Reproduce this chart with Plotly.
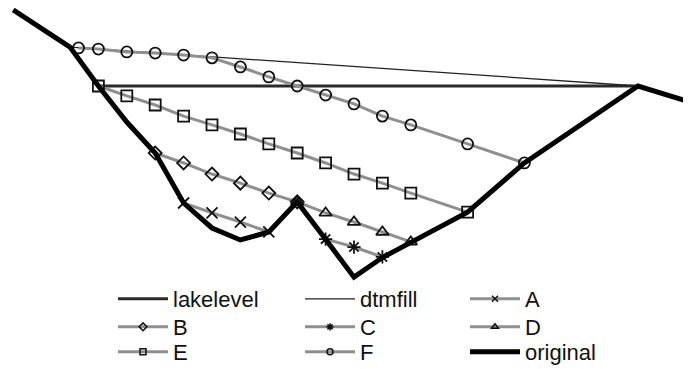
import plotly.graph_objects as go

# distance (m) and elevation (m)
orig_x = [-20, 0, 10, 20, 30, 40, 50, 60, 70, 80, 90, 100, 110, 120, 140, 160, 200, 220]
orig_y = [126.8, 113.7, 100.0, 87.3, 76.4, 58.8, 50.0, 45.8, 48.6, 59.2, 46.0, 32.7, 39.6, 45.1, 55.6, 72.9, 100.0, 93.8]

lake_x = [10, 200]
lake_y = [100, 100]

dtm_x = [0, 200]
dtm_y = [113.7, 100.0]

A_x = [40, 50, 60, 70]
A_y = [58.8, 55.3, 52.1, 48.6]

B_x = [30, 40, 50, 60, 70, 80]
B_y = [76.4, 72.9, 69.0, 65.8, 62.3, 59.2]

C_x = [90, 100, 110]
C_y = [46.1, 43.3, 39.8]

D_x = [80, 90, 100, 110, 120]
D_y = [59.2, 55.3, 52.1, 48.6, 45.1]

E_x = [10, 20, 30, 40, 50, 60, 70, 80, 90, 100, 110, 120, 140]
E_y = [100.0, 96.5, 93.3, 89.4, 86.3, 83.1, 79.6, 76.4, 72.9, 69.0, 65.8, 62.3, 55.6]

F_x = [3, 10, 20, 30, 40, 50, 60, 70, 80, 90, 100, 110, 120, 140, 160]
F_y = [113.4, 113.0, 112.0, 111.6, 110.9, 109.9, 106.7, 103.2, 100.0, 96.8, 93.7, 89.4, 86.3, 79.6, 72.9]

legend_order = ["lakelevel", "dtmfill", "A", "B", "C", "D", "E", "F", "original"]

GRAY = "#8f8f8f"
FONT = "Liberation Sans, Arial, sans-serif"

fig = go.Figure()

series = [
    ("A", A_x, A_y, "x-thin-open", 11),
    ("B", B_x, B_y, "diamond-open", 10),
    ("C", C_x, C_y, "asterisk-open", 11),
    ("D", D_x, D_y, "triangle-up-open", 11),
    ("E", E_x, E_y, "square-open", 11),
    ("F", F_x, F_y, "circle-open", 11),
]

fig.add_trace(go.Scatter(x=lake_x, y=lake_y, mode="lines", line=dict(color="#2a2a2a", width=3),
                         showlegend=False, legendgroup="lakelevel"))
fig.add_trace(go.Scatter(x=dtm_x, y=dtm_y, mode="lines", line=dict(color="#222", width=1.3),
                         showlegend=False, legendgroup="dtmfill"))
for name, xs, ys, sym, sz in series:
    fig.add_trace(go.Scatter(x=xs, y=ys, mode="lines+markers", line=dict(color=GRAY, width=3),
                             marker=dict(symbol=sym, size=sz, color="#111", line=dict(width=1.8)),
                             showlegend=False, legendgroup=name))
fig.add_trace(go.Scatter(x=orig_x, y=orig_y, mode="lines", line=dict(color="black", width=5),
                         showlegend=False, legendgroup="original"))

# legend entries: a 3 x 3 grid, one small legend per entry
sym_of = {n: s for n, _, _, s, _ in series}
col_x = [105, 292, 457]      # px from left of figure
row_y = [291, 319, 344]      # px from top of figure (item centres)
leg_layout = {}
for i, n in enumerate(legend_order):
    r, c = divmod(i, 3)
    lg = "legend" if i == 0 else f"legend{i + 1}"
    if n == "lakelevel":
        kw = dict(mode="lines", line=dict(color="#2a2a2a", width=3))
    elif n == "dtmfill":
        kw = dict(mode="lines", line=dict(color="#222", width=1.3))
    elif n == "original":
        kw = dict(mode="lines", line=dict(color="black", width=5))
    else:
        kw = dict(mode="lines+markers", line=dict(color=GRAY, width=3),
                  marker=dict(symbol=sym_of[n], size=6, color="#111", line=dict(width=1.5)))
    fig.add_trace(go.Scatter(x=[None], y=[None], name=n, legend=lg, legendgroup=n, **kw))
    leg_layout[lg] = dict(font=dict(family=FONT, size=22, color="#111"), bgcolor="rgba(0,0,0,0)",
                          itemwidth=50, tracegroupgap=0, xanchor="left", yanchor="middle",
                          x=col_x[c] / 691, y=1 - row_y[r] / 369)

fig.update_layout(
    width=691, height=369,
    margin=dict(l=0, r=0, t=0, b=0, autoexpand=False),
    paper_bgcolor="white", plot_bgcolor="white",
    xaxis=dict(range=[-21.83, 221.48], visible=False, showgrid=False, zeroline=False),
    yaxis=dict(range=[-2.46, 127.46], visible=False, showgrid=False, zeroline=False),
    showlegend=True,
    **leg_layout,
)

fig.write_html("out.html")
